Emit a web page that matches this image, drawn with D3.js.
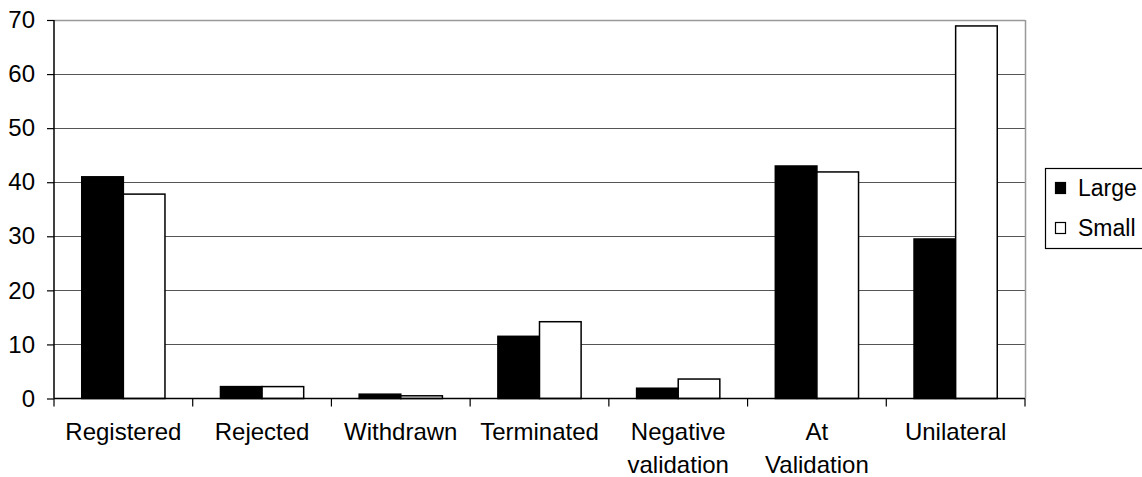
<!DOCTYPE html>
<html>
<head>
<meta charset="utf-8">
<script src="https://cdn.jsdelivr.net/npm/d3@7"></script>
<style>
  html, body { margin: 0; padding: 0; background: #fff; }
  svg { display: block; }
  text { font-family: "Liberation Sans", Arial, sans-serif; fill: #000; }
</style>
</head>
<body>
<svg id="chart" width="1142" height="477"></svg>
<script>
const categories = ["Registered", "Rejected", "Withdrawn", "Terminated", "Negative\nvalidation", "At\nValidation", "Unilateral"];
const seriesNames = ["Large", "Small"];
const largeValues = [41.0, 2.2, 0.8, 11.5, 1.9, 43.0, 29.5];
const smallValues = [37.8, 2.2, 0.5, 14.2, 3.6, 41.9, 68.9];
const yTicks = [0, 10, 20, 30, 40, 50, 60, 70];

(function () {
const svg = d3.select("#chart");
const pLeft = 54, pRight = 1025, pTop = 20, pBottom = 398.5;

const x = d3.scaleBand().domain(categories).range([pLeft, pRight]).paddingInner(0).paddingOuter(0);
const bw = x.bandwidth();
const x1 = d3.scaleBand().domain(seriesNames).range([bw * 0.2, bw * 0.8]).padding(0);
const y = d3.scaleLinear().domain([0, 70]).range([pBottom, pTop]);

const fills = { Large: "#000", Small: "#fff" };

// gridlines
svg.append("g").selectAll("line").data(yTicks.filter(d => d > 0 && d < 70)).join("line")
  .attr("x1", pLeft).attr("x2", pRight)
  .attr("y1", d => Math.round(y(d)) + 0.5).attr("y2", d => Math.round(y(d)) + 0.5)
  .attr("stroke", "#555").attr("stroke-width", 1);

// plot border (top & right gray)
svg.append("line").attr("x1", pLeft).attr("x2", pRight).attr("y1", pTop + 0.5).attr("y2", pTop + 0.5)
  .attr("stroke", "#999").attr("stroke-width", 1.5);
svg.append("line").attr("x1", pRight + 0.5).attr("x2", pRight + 0.5).attr("y1", pTop).attr("y2", pBottom)
  .attr("stroke", "#999").attr("stroke-width", 1.5);

// bars
const data = categories.map((c, i) => ({ c, vals: [{ s: "Large", v: largeValues[i] }, { s: "Small", v: smallValues[i] }] }));
const groups = svg.append("g").selectAll("g").data(data).join("g")
  .attr("transform", d => `translate(${x(d.c)},0)`);
groups.selectAll("rect").data(d => d.vals).join("rect")
  .attr("x", d => x1(d.s))
  .attr("y", d => y(d.v))
  .attr("width", x1.bandwidth())
  .attr("height", d => y(0) - y(d.v))
  .attr("fill", d => fills[d.s])
  .attr("stroke", "#000")
  .attr("stroke-width", 1.5);

// y axis
const yAxis = d3.axisLeft(y).tickValues(yTicks).tickSize(7).tickPadding(12).tickFormat(d3.format("d"));
const gy = svg.append("g").attr("transform", `translate(${pLeft},0)`).call(yAxis);
gy.select(".domain").attr("stroke", "#000").attr("stroke-width", 1.5).attr("d", `M0,${pTop}V${pBottom}`);
gy.selectAll(".tick line").attr("stroke", "#000").attr("stroke-width", 1.2);
gy.selectAll(".tick text").attr("font-size", 24).attr("font-family", "Liberation Sans, Arial, sans-serif").attr("fill", "#000");

// x axis (ticks at category boundaries)
const gx = svg.append("g").attr("transform", `translate(0,${pBottom})`);
gx.append("line").attr("x1", pLeft).attr("x2", pRight).attr("y1", 0).attr("y2", 0)
  .attr("stroke", "#000").attr("stroke-width", 1.5);
const boundaries = categories.map(c => x(c)).concat([pRight]);
gx.selectAll("line.tk").data(boundaries).join("line").attr("class", "tk")
  .attr("x1", d => d).attr("x2", d => d).attr("y1", 0).attr("y2", 8)
  .attr("stroke", "#000").attr("stroke-width", 1.2);
const labels = gx.selectAll("text.lbl").data(categories).join("text").attr("class", "lbl")
  .attr("text-anchor", "middle").attr("font-size", 24)
  .attr("x", d => x(d) + bw / 2);
labels.each(function (d) {
  const parts = d.split("\n");
  d3.select(this).selectAll("tspan").data(parts).join("tspan")
    .attr("x", x(d) + bw / 2)
    .attr("y", (p, i) => 41.5 + i * 33)
    .text(p => p);
});

// legend
const lg = svg.append("g");
lg.append("rect").attr("x", 1045.5).attr("y", 168.5).attr("width", 110).attr("height", 80)
  .attr("fill", "#fff").attr("stroke", "#000").attr("stroke-width", 1.2);
seriesNames.forEach((s, i) => {
  const yy = 182.5 + i * 40;
  lg.append("rect").attr("x", 1055.5).attr("y", yy).attr("width", 10).attr("height", 11)
    .attr("fill", fills[s]).attr("stroke", "#000").attr("stroke-width", 1.2);
  lg.append("text").attr("x", 1078).attr("y", yy + 13).attr("font-size", 23).text(s);
});
})();
</script>
</body>
</html>
